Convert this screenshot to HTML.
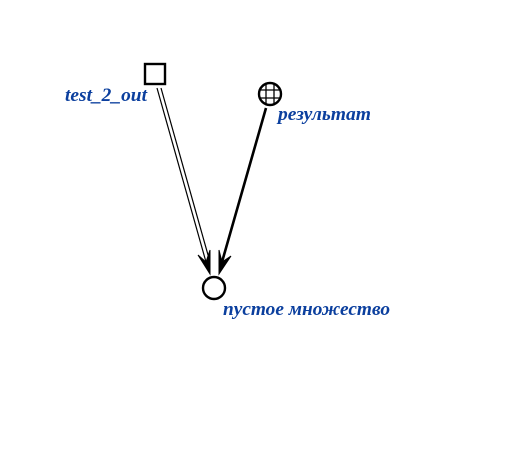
<!DOCTYPE html>
<html><head><meta charset="utf-8"><style>
body{margin:0;background:#fff;}
svg text{font-family:"Liberation Serif",serif;font-weight:bold;font-style:italic;font-size:19px;fill:#0b3f9e;}
</style></head><body>
<svg width="518" height="444" viewBox="0 0 518 444">
<g stroke="#000" fill="none">
<line x1="157" y1="88" x2="206" y2="262" stroke-width="1.2"/>
<line x1="161" y1="88" x2="210" y2="262" stroke-width="1.2"/>
<path d="M198,255 L210,274 L210,250 L206,262 Z" fill="#000" stroke-width="1"/>
</g>
<g stroke="#000" fill="none">
<line x1="266" y1="108" x2="222" y2="262" stroke-width="2.6"/>
<path d="M219,250 L219,274 L231,256 L222,262 Z" fill="#000" stroke-width="1"/>
</g>
<rect x="145" y="64" width="20" height="20" fill="#fff" stroke="#000" stroke-width="2.4"/>
<g stroke="#000" fill="#fff">
<circle cx="270" cy="94" r="11" stroke-width="2.4"/>
<line x1="260" y1="90" x2="280" y2="90" stroke-width="1.3"/>
<line x1="260" y1="98" x2="280" y2="98" stroke-width="1.3"/>
<line x1="266" y1="84" x2="266" y2="104" stroke-width="1.3"/>
<line x1="274" y1="84" x2="274" y2="104" stroke-width="1.3"/>
</g>
<circle cx="214" cy="288" r="11" fill="#fff" stroke="#000" stroke-width="2.4"/>
<text x="65" y="101" textLength="82" lengthAdjust="spacingAndGlyphs">test_2_out</text>
<text x="278" y="120" textLength="93" lengthAdjust="spacingAndGlyphs">результат</text>
<text x="223" y="315" textLength="167" lengthAdjust="spacingAndGlyphs">пустое множество</text>
</svg>
</body></html>
